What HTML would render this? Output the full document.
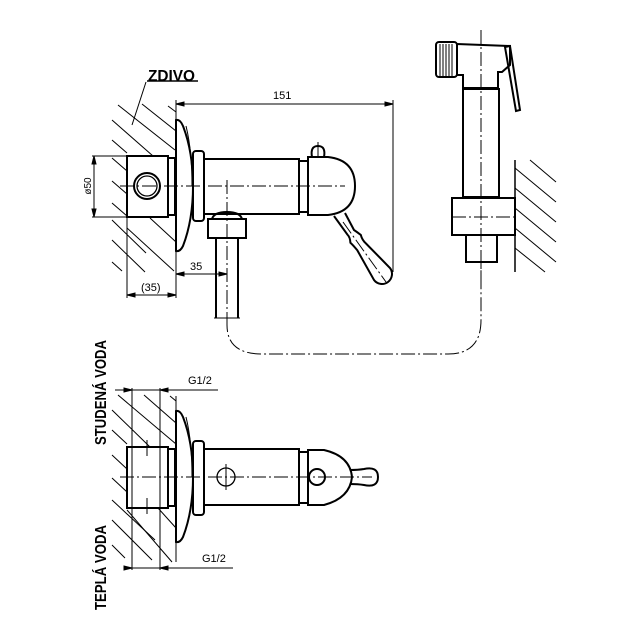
<!DOCTYPE html>
<html><head><style>
html,body{margin:0;padding:0;background:#fff;}
svg{display:block;}
text{font-family:"Liberation Sans",sans-serif;fill:#000;}
</style></head><body>
<svg width="632" height="632" viewBox="0 0 632 632" xmlns="http://www.w3.org/2000/svg">
<g stroke="#000" fill="none" stroke-linecap="butt">
<g stroke-width="1">
<line x1="118" y1="105" x2="175" y2="150"/>
<line x1="142" y1="104" x2="176" y2="131"/>
<line x1="168" y1="106" x2="176" y2="112"/>
<line x1="112" y1="120" x2="153" y2="156"/>
<line x1="112" y1="140" x2="127" y2="153"/>
<line x1="112" y1="158" x2="127" y2="171"/>
<line x1="112" y1="181" x2="127" y2="194"/>
<line x1="112" y1="203" x2="127" y2="216"/>
<line x1="112" y1="220" x2="146" y2="253"/>
<line x1="112" y1="240" x2="145" y2="272"/>
<line x1="112" y1="262" x2="122" y2="271"/>
<line x1="127" y1="228" x2="174" y2="271"/>
<line x1="150" y1="218" x2="176" y2="242"/>
</g>
<line x1="147" y1="81" x2="198" y2="81" stroke-width="1.5"/>
<line x1="146" y1="82" x2="132" y2="125" stroke-width="1"/>
<line x1="176" y1="104" x2="393" y2="104" stroke-width="1"/>
<line x1="176" y1="100" x2="176" y2="120" stroke-width="1"/>
<line x1="393" y1="100" x2="393" y2="272" stroke-width="1"/>
<polygon points="176,104 184,102 184,106" fill="#000"/>
<polygon points="393,104 385,102 385,106" fill="#000"/>
<line x1="92" y1="156" x2="127" y2="156" stroke-width="1"/>
<line x1="92" y1="217" x2="127" y2="217" stroke-width="1"/>
<line x1="94" y1="156" x2="94" y2="217" stroke-width="1"/>
<polygon points="94,156 92,164 96,164" fill="#000"/>
<polygon points="94,217 92,209 96,209" fill="#000"/>
<line x1="176" y1="250" x2="176" y2="298" stroke-width="1"/>
<line x1="127" y1="218" x2="127" y2="298" stroke-width="1"/>
<line x1="176" y1="274" x2="227" y2="274" stroke-width="1"/>
<polygon points="176,274 184,272 184,276" fill="#000"/>
<polygon points="227,274 219,272 219,276" fill="#000"/>
<line x1="127" y1="295" x2="176" y2="295" stroke-width="1"/>
<polygon points="127,295 135,293 135,297" fill="#000"/>
<polygon points="176,295 168,293 168,297" fill="#000"/>
<g stroke-width="2">
<rect x="127" y="156" width="41" height="61"/>
<rect x="168" y="158" width="7" height="57"/>
<circle cx="147" cy="186" r="13"/>
<circle cx="147" cy="186" r="10" stroke-width="1.3"/>
<path d="M176,120 L176,251 Q180,252 183,246 Q193,220 193,186 Q193,152 183,126 Q180,119 176,120 Z"/>
<path d="M186,126 Q192,150 192,186" stroke-width="1"/>
<rect x="193" y="151" width="11" height="70" rx="3"/>
<rect x="204" y="159" width="95" height="55"/>
<rect x="299" y="161" width="9" height="51"/>
<path d="M308,157 L328,157 Q355,160 355,186 Q355,212 328,215 L308,215 Z"/>
<path d="M312,157 Q310,146 318,146 Q326,146 324,157"/>
<path d="M345,213 L354,230 Q357,232 360.8,234.9 Q362,240 366,243.5 L390,268 A10,10 0 0 1 374,280 L357.2,250.1 Q353,245 350.4,242.7 Q350,237 347.6,234.8 L334,216"/>
<path d="M212,219 Q214,212 227,212 Q240,212 242,219"/>
<rect x="208" y="219" width="38" height="19"/>
<line x1="216" y1="238" x2="216" y2="318"/>
<line x1="238" y1="238" x2="238" y2="318"/>
<line x1="214" y1="318" x2="240" y2="318" stroke-width="1"/>
</g>
<g stroke-width="1" stroke-dasharray="14,3,2,3">
<line x1="120" y1="186" x2="345" y2="186"/>
<line x1="227" y1="180" x2="227" y2="318"/>
<line x1="318" y1="142" x2="318" y2="158"/>
<line x1="343" y1="222" x2="386" y2="282"/>
<path d="M227,318 L227,325 Q227,354 262,354 L448,354 Q481,354 481,320 L481,262"/>
</g>
<g stroke-width="2">
<rect x="436" y="42" width="21" height="35" rx="3"/>
<g stroke-width="1">
<line x1="440" y1="44" x2="440" y2="76"/><line x1="443" y1="44" x2="443" y2="76"/>
<line x1="446" y1="44" x2="446" y2="76"/><line x1="449" y1="44" x2="449" y2="76"/>
<line x1="452" y1="44" x2="452" y2="76"/>
</g>
<path d="M457,44 L510,46 L510,65 L502,72 L498,72 L498,88 L463,88 L463,75 L457,75 Z"/>
<path d="M505,47 L510,46 L520,110 L516,111 Z"/>
<rect x="463" y="89" width="36" height="108"/>
<rect x="452" y="198" width="63" height="37"/>
<rect x="466" y="235" width="31" height="27"/>
</g>
<g stroke-width="1" stroke-dasharray="14,3,2,3">
<line x1="481" y1="30" x2="481" y2="280"/>
<line x1="452" y1="217" x2="515" y2="217"/>
</g>
<line x1="515" y1="160" x2="515" y2="272" stroke-width="1.5"/>
<g stroke-width="1">
<line x1="530" y1="160" x2="556" y2="182"/>
<line x1="515" y1="168" x2="556" y2="202"/>
<line x1="515" y1="188" x2="556" y2="222"/>
<line x1="515" y1="208" x2="556" y2="242"/>
<line x1="515" y1="228" x2="556" y2="262"/>
<line x1="515" y1="248" x2="545" y2="272"/>
</g>
<g stroke-width="1">
<line x1="115" y1="390" x2="218" y2="390"/>
<line x1="124" y1="568" x2="233" y2="568"/>
<line x1="132" y1="388" x2="132" y2="570"/>
<line x1="160" y1="388" x2="160" y2="570"/>
<line x1="176" y1="396" x2="176" y2="562"/>
<polygon points="132,390 124,388 124,392" fill="#000"/>
<polygon points="160,390 168,388 168,392" fill="#000"/>
<polygon points="132,568 124,566 124,570" fill="#000"/>
<polygon points="160,568 168,566 168,570" fill="#000"/>
<line x1="118" y1="395" x2="176" y2="444"/>
<line x1="144" y1="395" x2="176" y2="423"/>
<line x1="170" y1="396" x2="176" y2="401"/>
<line x1="112" y1="410" x2="150" y2="447"/>
<line x1="112" y1="430" x2="127" y2="444"/>
<line x1="112" y1="455" x2="127" y2="469"/>
<line x1="112" y1="478" x2="127" y2="492"/>
<line x1="112" y1="500" x2="155" y2="540"/>
<line x1="112" y1="520" x2="152" y2="560"/>
<line x1="112" y1="545" x2="125" y2="558"/>
<line x1="127" y1="510" x2="172" y2="562"/>
<line x1="158" y1="508" x2="176" y2="528"/>
</g>
<g stroke-width="2">
<rect x="127" y="447" width="41" height="61"/>
<rect x="168" y="449" width="7" height="57"/>
<path d="M176,411 L176,542 Q180,543 183,537 Q193,511 193,477 Q193,443 183,417 Q180,410 176,411 Z"/>
<path d="M186,417 Q192,441 192,477" stroke-width="1"/>
<rect x="193" y="441" width="11" height="74" rx="3"/>
<rect x="204" y="449" width="95" height="56"/>
<rect x="299" y="452" width="9" height="51"/>
<path d="M308,450 L324,450 Q350,456 352,477 Q350,498 324,505 L308,505 Z"/>
<circle cx="317" cy="477" r="8"/>
<path d="M350,470 Q358,470 364,469 Q378,466 378,477 Q378,488 364,485 Q358,484 350,484"/>
<circle cx="226" cy="477" r="9" stroke-width="1.3"/>
</g>
<g stroke-width="1">
<line x1="226" y1="464" x2="226" y2="490"/>
<line x1="147" y1="440" x2="147" y2="456"/>
<line x1="147" y1="498" x2="147" y2="514"/>
</g>
<line x1="120" y1="477" x2="372" y2="477" stroke-width="1" stroke-dasharray="14,3,2,3"/>
</g>
<text x="148" y="81" font-size="16" font-weight="bold" textLength="47" lengthAdjust="spacingAndGlyphs">ZDIVO</text>
<text x="273" y="99" font-size="11">151</text>
<text x="190" y="270" font-size="11">35</text>
<text x="141" y="291" font-size="11">(35)</text>
<text transform="translate(91,186) rotate(-90)" font-size="10" text-anchor="middle">ø50</text>
<text x="188" y="384" font-size="11">G1/2</text>
<text x="202" y="562" font-size="11">G1/2</text>
<text transform="translate(106,445) rotate(-90)" font-size="16" font-weight="bold" textLength="105" lengthAdjust="spacingAndGlyphs">STUDENÁ VODA</text>
<text transform="translate(106,610) rotate(-90)" font-size="16" font-weight="bold" textLength="85" lengthAdjust="spacingAndGlyphs">TEPLÁ VODA</text>
</svg>
</body></html>
